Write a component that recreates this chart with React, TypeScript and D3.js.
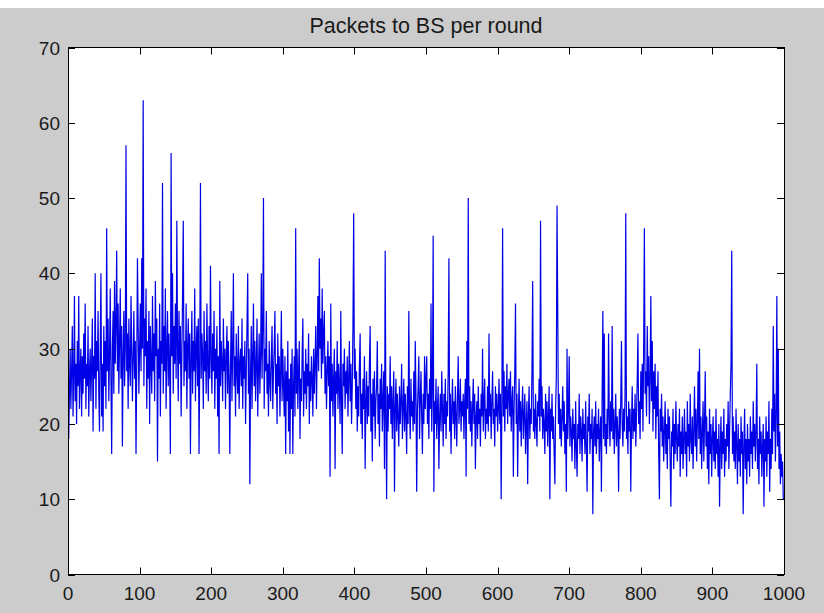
import React, { useEffect, useRef } from 'react'
import * as d3 from 'd3'

// packets received at the base station, one value per round (rounds 1..1000)
const packets1to250 = [
  18, 24, 30, 22, 27, 33, 21, 26, 37, 23, 28, 20, 31, 25, 37, 22, 27, 30, 21, 29,
  24, 32, 26, 36, 22, 28, 25, 33, 21, 27, 30, 23, 28, 34, 19, 29, 26, 40, 22, 31,
  27, 35, 24, 19, 30, 40, 21, 28, 19, 33,
  25, 31, 22, 46, 27, 34, 23, 29, 38, 26, 16, 30, 35, 24, 39, 28, 33, 43, 27, 36,
  24, 31, 38, 26, 33, 17, 29, 35, 25, 30, 57, 27, 32, 22, 34, 28, 25, 37, 30, 23,
  29, 35, 26, 31, 16, 28, 42, 33, 24, 30,
  36, 27, 42, 30, 63, 25, 34, 29, 38, 22, 31, 26, 35, 20, 33, 28, 24, 37, 27, 32,
  23, 39, 29, 34, 15, 30, 26, 36, 21, 31, 28, 52, 24, 33, 27, 38, 22, 30, 35, 25,
  32, 27, 16, 56, 29, 40, 24, 33, 28, 36,
  26, 47, 30, 23, 35, 28, 33, 21, 29, 37, 47, 25, 31, 27, 36, 22, 30, 34, 26, 32,
  16, 29, 35, 24, 31, 27, 38, 23, 30, 33, 25, 34, 16, 28, 52, 26, 32, 29, 22, 35,
  27, 31, 24, 36, 28, 23, 33, 26, 41, 29,
  24, 32, 27, 35, 22, 30, 26, 33, 21, 29, 16, 39, 25, 31, 28, 23, 34, 27, 30, 22,
  29, 33, 24, 31, 26, 16, 28, 35, 23, 30, 40, 25, 29, 21, 32, 27, 24, 33, 22, 28,
  30, 25, 34, 22, 29, 26, 31, 20, 27, 33,
]

const packets251to500 = [
  40, 24, 30, 12, 27, 33, 22, 29, 36, 25, 31, 23, 28, 34, 21, 27, 32, 24, 29, 40,
  26, 33, 50, 22, 30, 27, 35, 24, 28, 21, 31, 26, 23, 29, 33, 22, 27, 30, 35, 24,
  28, 20, 32, 25, 29, 21, 27, 35, 23, 30,
  25, 21, 29, 16, 27, 23, 31, 19, 26, 16, 28, 22, 30, 16, 25, 29, 21, 46, 24, 30,
  22, 27, 31, 18, 26, 23, 29, 34, 21, 27, 24, 30, 22, 28, 25, 32, 20, 27, 23, 29,
  26, 21, 30, 24, 28, 33, 22, 29, 37, 27,
  42, 30, 34, 26, 38, 28, 32, 35, 24, 29, 22, 27, 31, 25, 29, 13, 36, 23, 28, 21,
  26, 30, 14, 27, 24, 31, 22, 28, 25, 20, 35, 23, 16, 28, 25, 30, 22, 27, 24, 29,
  21, 26, 31, 23, 28, 20, 25, 33, 48, 26,
  30, 22, 27, 19, 25, 21, 28, 32, 20, 24, 18, 26, 22, 29, 14, 23, 27, 20, 25, 21,
  28, 33, 19, 24, 15, 26, 21, 27, 18, 23, 25, 31, 20, 24, 17, 26, 22, 28, 19, 23,
  27, 14, 43, 21, 10, 25, 19, 24, 22, 29,
  20, 25, 18, 23, 27, 11, 22, 26, 19, 24, 21, 17, 25, 20, 23, 28, 18, 22, 26, 19,
  24, 21, 16, 25, 20, 35, 22, 18, 26, 21, 23, 19, 27, 20, 31, 24, 11, 22, 25, 29,
  18, 23, 27, 21, 16, 24, 20, 29, 22, 26,
]

const packets501to750 = [
  29, 20, 24, 18, 26, 22, 36, 19, 25, 45, 11, 23, 20, 26, 18, 22, 25, 14, 21, 24,
  19, 27, 22, 17, 24, 20, 26, 18, 23, 21, 27, 42, 19, 24, 16, 22, 26, 20, 23, 18,
  25, 21, 17, 24, 29, 20, 22, 26, 19, 23,
  21, 24, 18, 23, 26, 13, 31, 22, 50, 20, 25, 19, 23, 17, 22, 26, 20, 24, 14, 21,
  23, 18, 25, 20, 22, 17, 24, 21, 30, 19, 23, 26, 18, 22, 20, 25, 19, 32, 21, 24,
  18, 23, 27, 20, 22, 17, 25, 21, 24, 19,
  22, 26, 20, 24, 10, 23, 46, 21, 27, 19, 25, 22, 28, 20, 24, 26, 21, 27, 19, 23,
  25, 13, 22, 27, 36, 20, 24, 13, 21, 26, 19, 23, 17, 22, 25, 18, 21, 24, 16, 20,
  23, 12, 21, 25, 18, 22, 20, 27, 39, 19,
  22, 18, 24, 20, 17, 23, 21, 26, 19, 47, 21, 25, 18, 22, 20, 16, 24, 19, 23, 17,
  21, 25, 10, 22, 19, 24, 18, 21, 16, 12, 22, 26, 49, 35, 20, 24, 18, 22, 17, 21,
  25, 19, 23, 16, 20, 11, 30, 18, 22, 29,
  17, 21, 19, 15, 22, 18, 20, 14, 23, 17, 13, 20, 18, 24, 16, 21, 19, 15, 22, 18,
  20, 16, 23, 17, 11, 21, 19, 24, 16, 20, 18, 22, 8, 19, 21, 17, 23, 16, 20, 18,
  22, 15, 19, 21, 11, 24, 35, 18, 32, 17,
]

const packets751to1000 = [
  20, 16, 22, 18, 32, 21, 17, 23, 19, 33, 18, 22, 16, 20, 24, 17, 21, 19, 11, 22,
  18, 23, 31, 20, 17, 22, 19, 24, 48, 18, 21, 16, 23, 19, 22, 11, 20, 25, 18, 22,
  19, 24, 17, 21, 26, 32, 20, 23, 18, 27,
  22, 28, 19, 30, 46, 24, 27, 21, 33, 25, 29, 20, 26, 37, 23, 31, 19, 27, 22, 28,
  18, 25, 21, 27, 16, 10, 22, 19, 24, 17, 21, 15, 19, 23, 16, 20, 14, 22, 18, 21,
  15, 9, 19, 17, 22, 14, 20, 16, 23, 18,
  15, 20, 17, 22, 13, 19, 16, 21, 14, 18, 22, 16, 19, 13, 23, 17, 20, 15, 24, 18,
  16, 21, 14, 19, 25, 17, 22, 15, 20, 27, 18, 30, 16, 21, 14, 19, 23, 15, 20, 27,
  17, 21, 14, 19, 12, 22, 16, 20, 13, 18,
  21, 15, 19, 14, 22, 16, 18, 13, 20, 9, 17, 21, 14, 19, 16, 22, 13, 18, 15, 20,
  17, 23, 14, 19, 24, 28, 43, 16, 21, 15, 19, 14, 22, 17, 12, 20, 15, 18, 13, 21,
  16, 19, 8, 17, 22, 14, 18, 12, 20, 15,
  18, 13, 21, 16, 19, 14, 23, 17, 20, 15, 19, 28, 14, 18, 12, 21, 16, 19, 13, 17,
  20, 9, 18, 15, 21, 13, 19, 16, 23, 11, 18, 14, 22, 16, 33, 19, 24, 15, 21, 37,
  17, 30, 14, 19, 12, 16, 13, 15, 10, 10,
]

const xTicks = [0, 100, 200, 300, 400, 500, 600, 700, 800, 900, 1000]
const yTicks = [0, 10, 20, 30, 40, 50, 60, 70]
const title = 'Packets to BS per round'

const width = 824
const height = 613
const left = 68
const right = 784
const top = 47.5
const bottom = 574.5
const tickLen = 7
const font = 'Arial, "Liberation Sans", Helvetica, sans-serif'

const App = () => {
  const ref = useRef<SVGSVGElement>(null)

  useEffect(() => {
    const packets = packets1to250.concat(packets251to500, packets501to750, packets751to1000)

    const svg = d3.select(ref.current)
    svg.selectAll('*').remove()

    const x = d3.scaleLinear().domain([0, 1000]).range([left, right])
    const y = d3.scaleLinear().domain([0, 70]).range([bottom, top])

    svg.append('rect').attr('width', width).attr('height', height).attr('fill', '#cccccc')
    // thin white strip along the top edge of the screenshot
    svg.append('rect').attr('width', width).attr('height', 8).attr('fill', '#ffffff')
    svg
      .append('rect')
      .attr('x', left)
      .attr('y', top)
      .attr('width', right - left)
      .attr('height', bottom - top)
      .attr('fill', '#ffffff')

    const line = d3
      .line<number>()
      .x((d, i) => x(i + 1))
      .y(d => y(d))

    svg
      .append('path')
      .datum(packets)
      .attr('d', line)
      .attr('fill', 'none')
      .attr('stroke', '#0000e6')
      .attr('stroke-width', 1.2)

    // box with inward ticks on every side, matlab style
    const frame = svg.append('g').attr('stroke', '#000').attr('stroke-width', 1).attr('fill', 'none')
    frame
      .append('rect')
      .attr('x', left + 0.5)
      .attr('y', top)
      .attr('width', right - left)
      .attr('height', bottom - top)

    xTicks.forEach(t => {
      const px = Math.round(x(t)) + 0.5
      frame.append('line').attr('x1', px).attr('x2', px).attr('y1', bottom).attr('y2', bottom - tickLen)
      frame.append('line').attr('x1', px).attr('x2', px).attr('y1', top).attr('y2', top + tickLen)
    })
    yTicks.forEach(t => {
      const py = Math.round(y(t)) + 0.5
      frame.append('line').attr('x1', left).attr('x2', left + tickLen).attr('y1', py).attr('y2', py)
      frame.append('line').attr('x1', right).attr('x2', right - tickLen).attr('y1', py).attr('y2', py)
    })

    svg
      .append('g')
      .selectAll('text')
      .data(xTicks)
      .enter()
      .append('text')
      .attr('x', d => x(d))
      .attr('y', bottom + 25)
      .attr('text-anchor', 'middle')
      .attr('font-family', font)
      .attr('font-size', 19)
      .attr('fill', '#1a1a1a')
      .text(d => d)

    svg
      .append('g')
      .selectAll('text')
      .data(yTicks)
      .enter()
      .append('text')
      .attr('x', left - 8)
      .attr('y', d => y(d) + 7)
      .attr('text-anchor', 'end')
      .attr('font-family', font)
      .attr('font-size', 19)
      .attr('fill', '#1a1a1a')
      .text(d => d)

    svg
      .append('text')
      .attr('x', (left + right) / 2)
      .attr('y', 33)
      .attr('text-anchor', 'middle')
      .attr('font-family', font)
      .attr('font-size', 21.5)
      .attr('fill', '#1a1a1a')
      .text(title)
  }, [])

  return (
    <svg
      ref={ref}
      width={width}
      height={height}
      style={{ position: 'absolute', left: 0, top: 0, display: 'block' }}
    />
  )
}

export default App
